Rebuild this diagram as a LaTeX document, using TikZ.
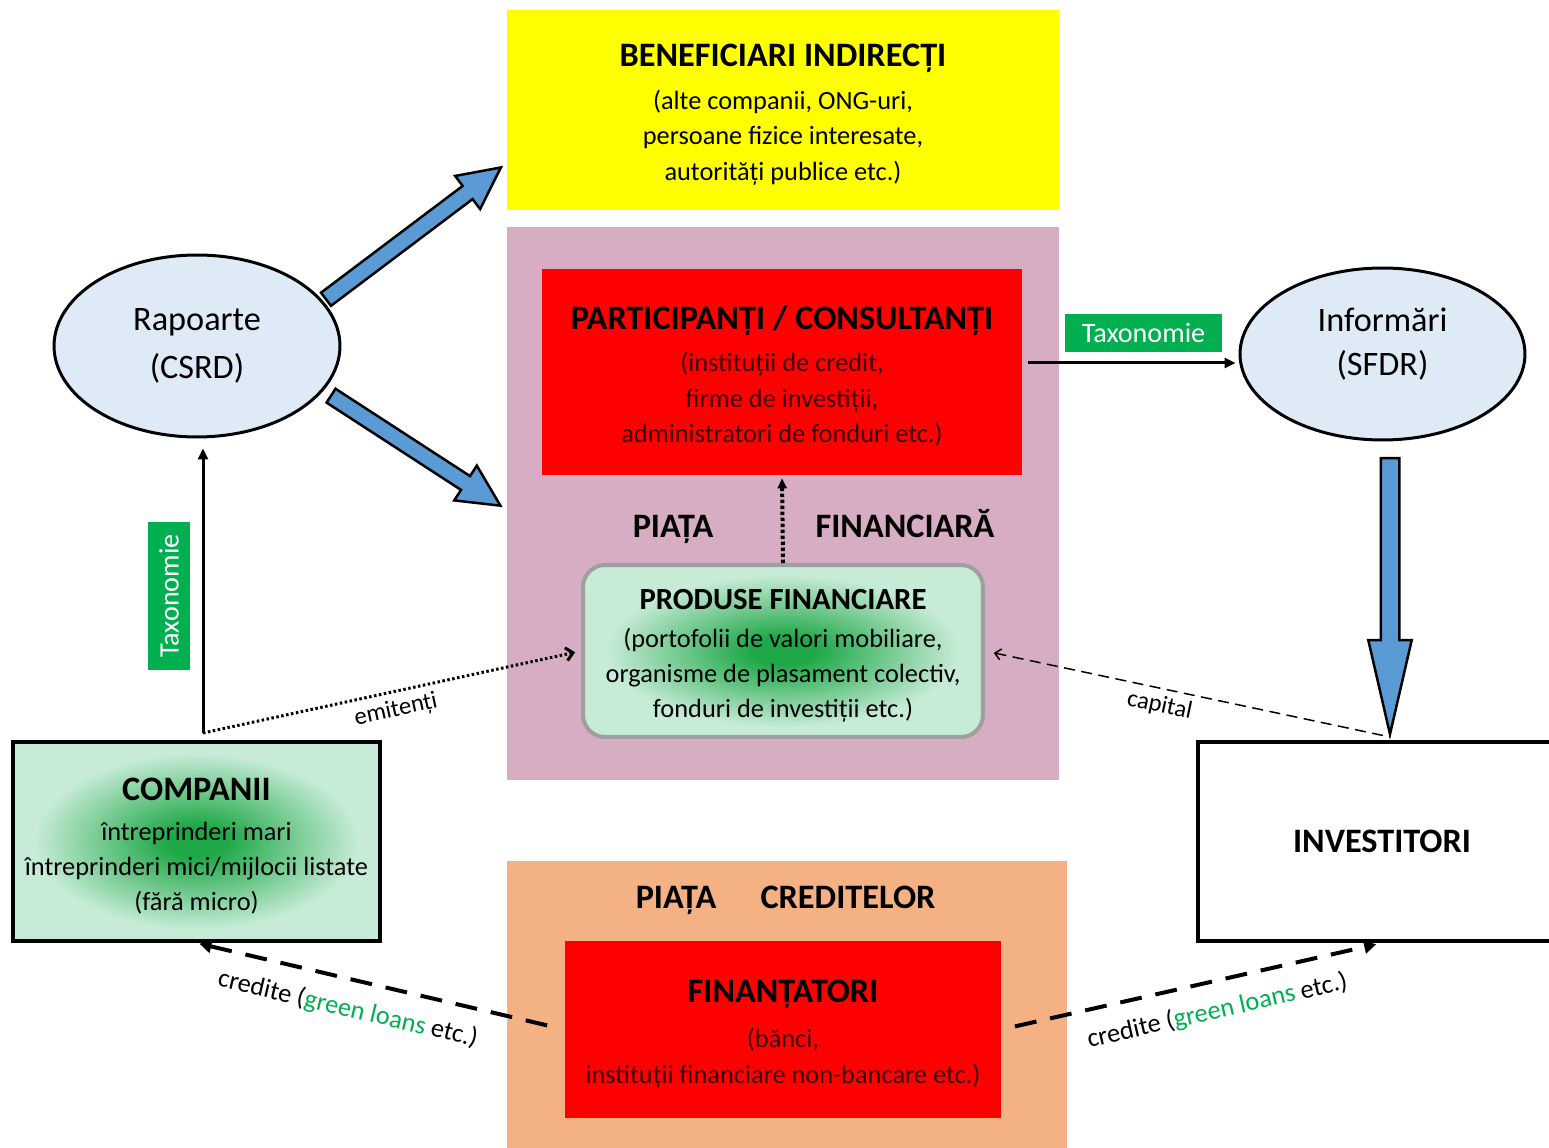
\documentclass[tikz,border=0pt]{standalone}
\usepackage{fontspec}
\setmainfont{Carlito}
\usetikzlibrary{shapes.geometric,shapes.arrows,arrows.meta,positioning}

\definecolor{benefyellow}{HTML}{FFFF00}
\definecolor{finpink}{HTML}{D6ADC3}
\definecolor{boxred}{HTML}{FF0000}
\definecolor{credorange}{HTML}{F4B183}
\definecolor{ellblue}{HTML}{DEEBF7}
\definecolor{arrblue}{HTML}{5B9BD5}
\definecolor{taxgreen}{HTML}{00B050}
\definecolor{glowgreen}{HTML}{1FA847}
\definecolor{palemint}{HTML}{C6EBD6}
\definecolor{redtext}{HTML}{3A0000}

% green glow for the two light boxes
\pgfdeclareradialshading{glow}{\pgfpoint{0bp}{0bp}}{color(0bp)=(glowgreen); color(4bp)=(glowgreen); color(22bp)=(palemint); color(50bp)=(palemint)}

\newcommand{\boxhead}[1]{{\fontsize{19.5}{24}\selectfont\bfseries\color{black}\rule{0pt}{18pt}#1}}

\tikzset{
  area/.style={rectangle, inner sep=0pt},
  bodytext/.style={align=center, font=\fontsize{15}{20}\selectfont},
  redbox/.style={area, bodytext, fill=boxred, text=redtext},
  glowbox/.style={area, bodytext, shade, shading=glow, line width=0.08cm},
  ellnode/.style={ellipse, draw, line width=0.06cm, fill=ellblue, align=center,
    font=\fontsize{19.5}{27}\selectfont, minimum width=5.72cm, minimum height=3.64cm},
  marketlabel/.style={anchor=base, font=\fontsize{19.5}{24}\selectfont\bfseries},
  taxlabel/.style={fill=taxgreen, text=white, inner sep=0pt, font=\fontsize{16}{20}\selectfont},
  smalltext/.style={font=\fontsize{14}{18}\selectfont},
  blockarr/.style={single arrow, draw, line width=0.05cm, fill=arrblue, anchor=tail, single arrow head indent=0pt},
  solidarr/.style={line width=0.06cm, -{Triangle[length=0.22cm, width=0.2cm]}},
  dotarr/.style={line width=0.08cm, dash pattern=on 0.07cm off 0.05cm, -{Triangle[length=0.2cm, width=0.18cm]}},
  emitarr/.style={line width=0.06cm, dash pattern=on 0.05cm off 0.05cm, -{Straight Barb[length=0.14cm, width=0.26cm]}},
  capitalarr/.style={line width=0.03cm, dash pattern=on 0.22cm off 0.13cm, {Straight Barb[length=0.12cm, width=0.22cm]}-},
  creditarr/.style={line width=0.08cm, dash pattern=on 0.44cm off 0.28cm}
}

\begin{document}
\begin{tikzpicture}[x=0.02cm, y=-0.02cm]
    \useasboundingbox (0,0) rectangle (1549,1148);
    \clip (0,0) rectangle (1549,1148);

    % market areas
    \node[area, bodytext, fill=benefyellow, minimum width=11.04cm, minimum height=4cm] (benef) at (783,110)
        {\boxhead{BENEFICIARI INDIRECȚI}\\[0.16cm] (alte companii, ONG-uri,\\ persoane fizice interesate,\\ autorități publice etc.)};
    \node[area, fill=finpink, minimum width=11.04cm, minimum height=11.06cm] (finmkt) at (783,503.5) {};
    \node[area, fill=credorange, minimum width=11.2cm, minimum height=6cm] (credmkt) at (787,1011) {};

    % financial market
    \node[redbox, minimum width=9.6cm, minimum height=4.12cm] (particip) at (782,372)
        {\boxhead{PARTICIPANȚI / CONSULTANȚI}\\[0.14cm] (instituții de credit,\\ firme de investiții,\\ administratori de fonduri etc.)};
    \node[marketlabel] (fintitleA) at (673,538) {PIAȚA};
    \node[marketlabel] (fintitleB) at (905,538) {FINANCIARĂ};
    \node[glowbox, draw=gray!75, rounded corners=0.44cm, minimum width=8cm, minimum height=3.44cm] (produse) at (783,651)
        {{\fontsize{17.5}{22}\selectfont\bfseries\rule{0pt}{17pt}PRODUSE FINANCIARE}\\[0.05cm] (portofolii de valori mobiliare,\\ organisme de plasament colectiv,\\ fonduri de investiții etc.)};

    % credit market
    \node[marketlabel] (credtitleA) at (676,908) {PIAȚA};
    \node[marketlabel] (credtitleB) at (848,908) {CREDITELOR};
    \node[redbox, minimum width=8.72cm, minimum height=3.54cm] (finant) at (783,1029.5)
        {\boxhead{FINANȚATORI}\\[0.2cm] (bănci,\\ instituții financiare non-bancare etc.)};

    % reports and disclosures
    \node[ellnode] (rap) at (197,346) {Rapoarte\\(CSRD)};
    \node[ellnode, minimum width=5.7cm, minimum height=3.44cm, font=\fontsize{19.5}{25}\selectfont] (info) at (1382.5,354)
        {Informări\\(SFDR)\rule[-0.5cm]{0pt}{0.5cm}};

    % companies and investors
    \node[glowbox, draw=black, minimum width=7.34cm, minimum height=3.98cm] (comp) at (196.5,841.5)
        {\boxhead{COMPANII}\\[0.1cm] întreprinderi mari\\ întreprinderi mici/mijlocii listate\\ (fără micro)};
    \node[area, draw, line width=0.08cm, fill=white, minimum width=7.36cm, minimum height=3.98cm,
        font=\fontsize{19.5}{24}\selectfont\bfseries] (invest) at (1382,841.5) {INVESTITORI};

    % taxonomy labels
    \node[taxlabel, minimum width=3.14cm, minimum height=0.76cm] (taxright) at (1143.5,333) {Taxonomie};
    \node[taxlabel, rotate=90, minimum width=2.96cm, minimum height=0.84cm] (taxleft) at (169,596) {Taxonomie};

    % big blue arrows
    \node[blockarr, inner sep=0.14cm, minimum width=0.8cm, single arrow tip angle=53, minimum height=4.38cm, rotate=37] (arrbenef) at (325,300) {};
    \node[blockarr, inner sep=0.14cm, minimum width=0.8cm, single arrow tip angle=53, minimum height=4.04cm, rotate=-33] (arrmkt) at (330,395) {};
    \node[blockarr, inner sep=0.16cm, minimum width=0.7cm, single arrow tip angle=26, minimum height=5.52cm, rotate=-90] (arrinvest) at (1390,457) {};

    % connectors
    \coordinate (compTop) at (203,733);
    \coordinate (partOut) at ([shift={(6,-9)}]particip.east);
    \coordinate (investTop) at (1390,737);

    \draw[solidarr, shorten >=0.2cm] (compTop) -- (compTop |- rap.south);
    \draw[solidarr, shorten >=0.06cm] (partOut) -- (partOut -| info.west);
    \draw[dotarr, shorten >=0.06cm] (produse.north) -- (particip.south);
    \draw[emitarr, shorten >=0.12cm] (compTop) -- (produse.west)
        node[pos=0.5, below=0.09cm, sloped, smalltext, inner sep=1pt] {emitenți};
    \draw[capitalarr, shorten <=0.18cm] (produse.east) -- (investTop)
        node[pos=0.44, below, sloped, smalltext] {capital};

    \draw[creditarr, {Triangle[length=0.24cm, width=0.26cm]}-, shorten <=0.06cm, shorten >=0.2cm] (comp.south) -- (finant.west)
        node[pos=0.43, below=0.2cm, sloped, bodytext] {credite (\textcolor{taxgreen}{green loans} etc.)};
    \draw[creditarr, -{Triangle[length=0.24cm, width=0.26cm]}, shorten <=0.28cm, shorten >=0.12cm] (finant.east) -- (invest.south)
        node[pos=0.55, below=0.2cm, sloped, bodytext] {credite (\textcolor{taxgreen}{green loans} etc.)};
\end{tikzpicture}
\end{document}
